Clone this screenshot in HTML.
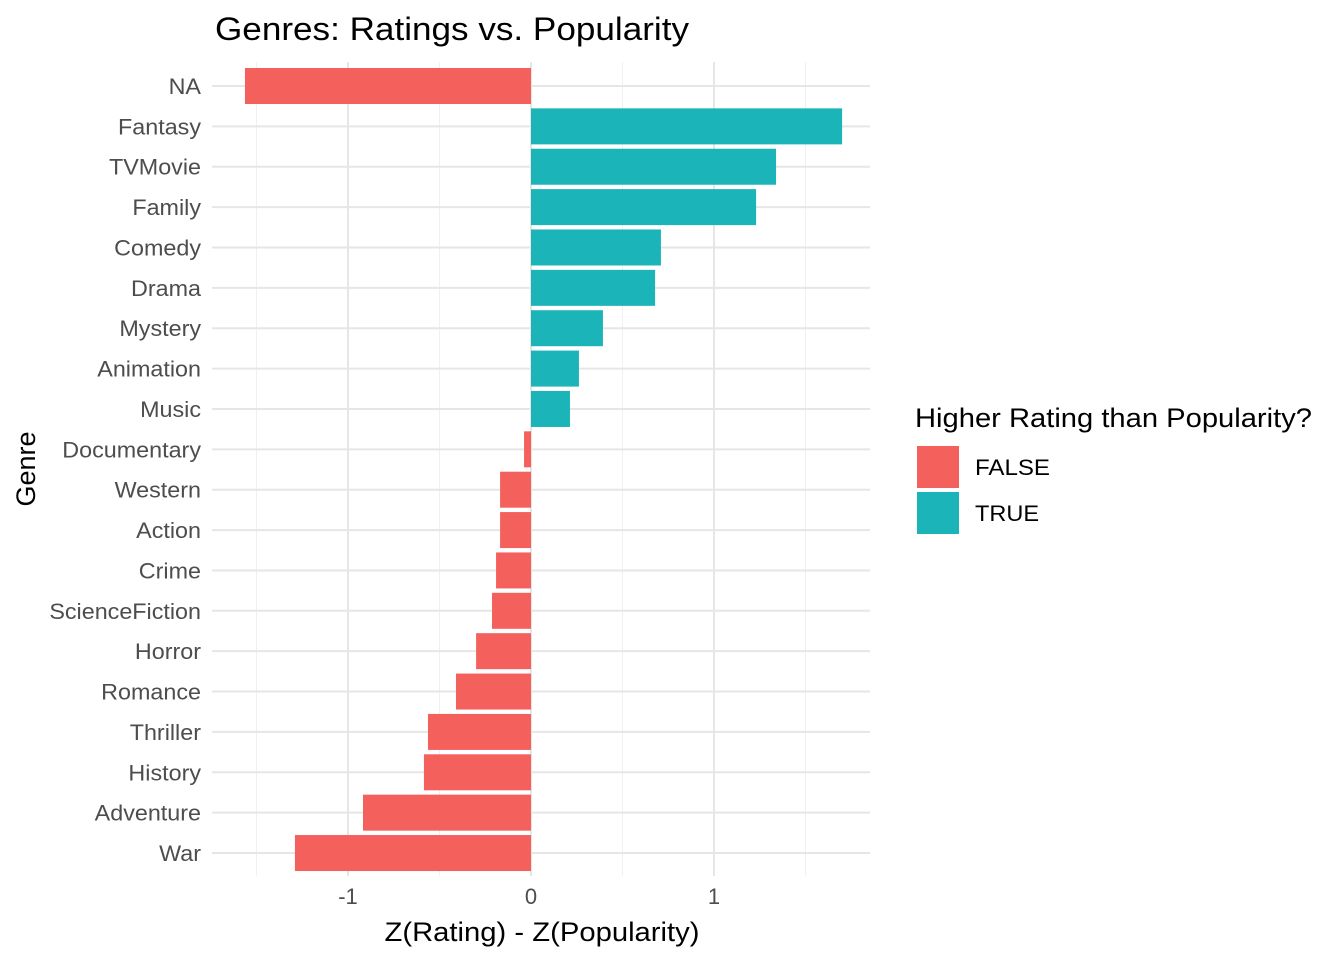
<!DOCTYPE html>
<html><head><meta charset="utf-8"><style>
body{margin:0;background:#fff;font-family:"Liberation Sans",Arial,sans-serif;}
</style></head><body>
<svg id="chart" width="1344" height="960" xmlns="http://www.w3.org/2000/svg" font-family="Liberation Sans, Arial, sans-serif">
<text x="215" y="40" font-size="32" textLength="474" lengthAdjust="spacingAndGlyphs" fill="#000">Genres: Ratings vs. Popularity</text>
<g id="grid"></g><g id="bars"></g><g id="labels"></g>
<text x="542" y="941" font-size="27" text-anchor="middle" textLength="315" lengthAdjust="spacingAndGlyphs" fill="#000">Z(Rating) - Z(Popularity)</text>
<text transform="translate(35,469) rotate(-90)" font-size="27" text-anchor="middle" fill="#000">Genre</text>
<text x="915" y="427" font-size="27" textLength="397" lengthAdjust="spacingAndGlyphs" fill="#000">Higher Rating than Popularity?</text>
<rect x="917" y="446" width="42" height="42" fill="#F4605C"/>
<text x="975" y="475" font-size="22" textLength="75" lengthAdjust="spacingAndGlyphs" fill="#000">FALSE</text>
<rect x="917" y="492" width="42" height="42" fill="#1BB4B8"/>
<text x="975" y="521" font-size="22" textLength="64" lengthAdjust="spacingAndGlyphs" fill="#000">TRUE</text>
</svg>
<script>
const genres=["NA","Fantasy","TVMovie","Family","Comedy","Drama","Mystery","Animation","Music","Documentary","Western","Action","Crime","ScienceFiction","Horror","Romance","Thriller","History","Adventure","War"];
const values=[-1.563,1.70,1.339,1.230,0.710,0.678,0.393,0.262,0.213,-0.038,-0.169,-0.169,-0.191,-0.213,-0.30,-0.41,-0.563,-0.585,-0.918,-1.29];
const majorTicks=[-1,0,1];
const minorTicks=[-1.5,-0.5,0.5,1.5];
const NS="http://www.w3.org/2000/svg";
const x=v=>531+v*183;
const y=i=>86+i*40.37;
const PL=212,PR=870,PT=62,PB=876;
function mk(t,a,p){const e=document.createElementNS(NS,t);for(const k in a)e.setAttribute(k,a[k]);p.appendChild(e);return e;}
const grid=document.getElementById('grid'),bars=document.getElementById('bars'),labels=document.getElementById('labels');
minorTicks.forEach(t=>{const l=mk('line',{x1:x(t),x2:x(t),y1:PT,y2:PB,stroke:'#f0f0f0','stroke-width':1},grid);

});
majorTicks.forEach(t=>{const l=mk('line',{x1:x(t),x2:x(t),y1:PT,y2:PB,stroke:'#e6e6e6','stroke-width':2},grid);


const tx=mk('text',{x:x(t),y:904,'font-size':22,'text-anchor':'middle',fill:'#4d4d4d'},labels);tx.textContent=t;

});
genres.forEach((g,i)=>{const l=mk('line',{x1:PL,x2:PR,y1:y(i),y2:y(i),stroke:'#e6e6e6','stroke-width':2},grid);


const v=values[i];const r=mk('rect',{x:Math.min(x(0),x(v)),y:y(i)-18,width:Math.abs(x(v)-x(0)),height:36,fill:v>0?'#1BB4B8':'#F4605C'},bars);


const tx=mk('text',{x:201,y:y(i)+8,'font-size':22,'text-anchor':'end',fill:'#4d4d4d'},labels);tx.textContent=g;


const w=tx.getComputedTextLength();tx.setAttribute('textLength',w*1.06);tx.setAttribute('lengthAdjust','spacingAndGlyphs');});
</script>
</body></html>
